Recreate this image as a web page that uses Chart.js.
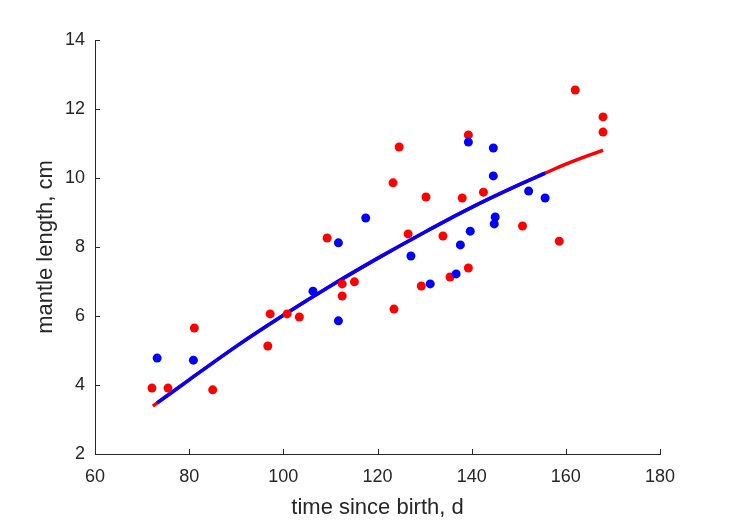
<!DOCTYPE html>
<html>
<head>
<meta charset="utf-8">
<script src="https://cdn.jsdelivr.net/npm/chart.js@4"></script>
<style>
  html, body { margin: 0; padding: 0; background: #fff; }
  canvas { display: block; }
</style>
</head>
<body>
<canvas id="growthChart" width="729" height="521"></canvas>
<script>
// measured points (day, mantle length cm)
const redDays = [72.1, 75.5, 81.1, 85.0, 96.7, 97.2, 100.8, 103.4, 109.3, 112.5, 112.5, 115.1,
    123.3, 123.5, 124.6, 126.5, 129.3, 130.3, 133.9, 135.4, 138.0, 139.3, 139.3, 142.5,
    150.8, 158.6, 162.0, 167.9, 167.9];
const redLengths = [3.91, 3.91, 5.65, 3.86, 5.13, 6.06, 6.06, 5.97, 8.26, 6.93, 6.58, 6.99,
    9.86, 6.20, 10.90, 8.38, 6.87, 9.45, 8.32, 7.13, 9.42, 11.25, 7.39, 9.59,
    8.61, 8.17, 12.55, 11.77, 11.33];

const blueDays = [73.2, 80.9, 106.3, 111.7, 111.7, 117.5, 127.1, 131.2, 136.7, 137.6, 139.7,
    144.8, 145.0, 139.3, 144.6, 144.6, 152.1, 155.6];
const blueLengths = [4.78, 4.72, 6.72, 8.12, 5.86, 8.84, 7.74, 6.93, 7.22, 8.06, 8.46,
    8.67, 8.87, 11.04, 10.87, 10.06, 9.62, 9.42];

// fitted growth curves
const redFitDays = [72.3, 80, 90, 100, 110, 120, 130, 140, 150, 155.6, 160, 167.9];
const redFitLengths = [3.39, 4.15, 5.12, 6.02, 6.87, 7.67, 8.43, 9.15, 9.80, 10.14, 10.40, 10.81];
const blueFitDays = [73.2, 80, 90, 100, 110, 120, 130, 140, 150, 155.6];
const blueFitLengths = [3.48, 4.15, 5.12, 6.02, 6.87, 7.67, 8.43, 9.15, 9.80, 10.14];

const xTicks = [60, 80, 100, 120, 140, 160, 180];
const yTicks = [2, 4, 6, 8, 10, 12, 14];

const RED = '#ff0000';
const BLUE = '#0000ff';
const AXIS = '#262626';
const FONT = "'Liberation Sans', Arial, Helvetica, sans-serif";

function toXY(xs, ys) {
    return xs.map((x, i) => ({ x: x, y: ys[i] }));
}

// MATLAB style ticks pointing into the axes
const inwardTicks = {
    id: 'inwardTicks',
    afterDraw(chart) {
        const c = chart.ctx;
        const xs = chart.scales.x, ys = chart.scales.y;
        const len = 5;
        c.save();
        c.strokeStyle = AXIS;
        c.lineWidth = 1;
        c.beginPath();
        xTicks.forEach(v => {
            const px = Math.round(xs.getPixelForValue(v)) + 0.5;
            c.moveTo(px, ys.bottom);
            c.lineTo(px, ys.bottom - len);
        });
        yTicks.forEach(v => {
            const py = Math.round(ys.getPixelForValue(v)) + 0.5;
            c.moveTo(xs.left, py);
            c.lineTo(xs.left + len, py);
        });
        c.stroke();
        c.restore();
    }
};

new Chart(document.getElementById('growthChart'), {
    type: 'scatter',
    data: {
        datasets: [
            {
                data: toXY(blueDays, blueLengths),
                backgroundColor: BLUE, borderWidth: 0,
                pointRadius: 4.5, order: 0
            },
            {
                data: toXY(redDays, redLengths),
                backgroundColor: RED, borderWidth: 0,
                pointRadius: 4.5, order: 1
            },
            {
                data: toXY(blueFitDays, blueFitLengths),
                showLine: true, borderColor: BLUE, borderWidth: 3.5,
                pointRadius: 0, cubicInterpolationMode: 'monotone', order: 2
            },
            {
                data: toXY(redFitDays, redFitLengths),
                showLine: true, borderColor: RED, borderWidth: 3.5,
                pointRadius: 0, cubicInterpolationMode: 'monotone', order: 3
            }
        ]
    },
    options: {
        responsive: false,
        animation: false,
        events: [],
        layout: { padding: { top: 40, right: 69, left: 0, bottom: 0 } },
        plugins: {
            legend: { display: false },
            tooltip: { enabled: false }
        },
        scales: {
            x: {
                type: 'linear', min: 60, max: 180,
                afterFit: s => { s.height = 67; },
                afterBuildTicks: s => { s.ticks = xTicks.map(v => ({ value: v })); },
                ticks: { color: AXIS, padding: 4, font: { family: FONT, size: 18 } },
                grid: { display: false },
                border: { color: AXIS, width: 1 },
                title: {
                    display: true, text: 'time since birth, d', color: AXIS,
                    font: { family: FONT, size: 22 }, padding: { top: 0, bottom: 0 }
                }
            },
            y: {
                type: 'linear', min: 2, max: 14,
                afterFit: s => { s.width = 95; },
                afterBuildTicks: s => { s.ticks = yTicks.map(v => ({ value: v })); },
                ticks: { color: AXIS, padding: 2, font: { family: FONT, size: 18 } },
                grid: { display: false },
                border: { color: AXIS, width: 1 },
                title: {
                    display: true, text: 'mantle length, cm', color: AXIS,
                    font: { family: FONT, size: 22 }, padding: { top: 33, bottom: 0 }
                }
            }
        }
    },
    plugins: [inwardTicks]
});
</script>
</body>
</html>
